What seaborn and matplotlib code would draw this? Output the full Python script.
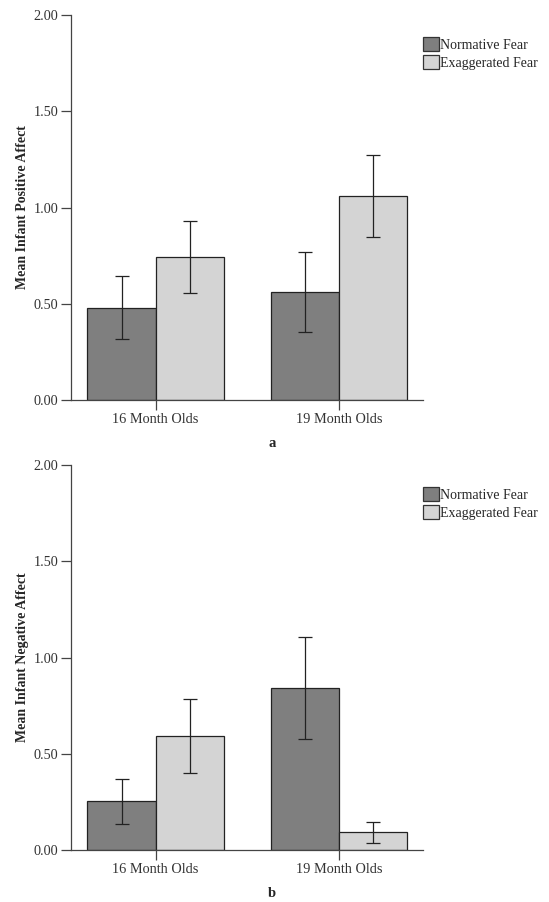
import numpy as np
import pandas as pd
import seaborn as sns
import matplotlib.pyplot as plt
from matplotlib.patches import Patch

ages = ['16 Month Olds', '19 Month Olds']
groups = ['Normative Fear', 'Exaggerated Fear']

# panel a - positive affect
pos_norm = [0.48, 0.56]
pos_exag = [0.743, 1.06]
pos_norm_lo = [0.316, 0.353]
pos_norm_hi = [0.644, 0.77]
pos_exag_lo = [0.555, 0.847]
pos_exag_hi = [0.93, 1.274]

# panel b - negative affect
neg_norm = [0.253, 0.843]
neg_exag = [0.592, 0.092]
neg_norm_lo = [0.135, 0.577]
neg_norm_hi = [0.367, 1.108]
neg_exag_lo = [0.40, 0.036]
neg_exag_hi = [0.783, 0.145]

yticks = [0.0, 0.5, 1.0, 1.5, 2.0]
ytick_labels = ['0.00', '0.50', '1.00', '1.50', '2.00']

colors = ['#7f7f7f', '#d4d4d4']

sns.set_style('white')
plt.rcParams['font.family'] = ['Liberation Serif', 'DejaVu Serif']

fig = plt.figure(figsize=(5.49, 9.02), dpi=100)
ax1 = fig.add_axes([0.1288, 0.5565, 0.6417, 0.4269])
ax2 = fig.add_axes([0.1288, 0.0576, 0.6417, 0.4269])


def panel(ax, norm, exag, nlo, nhi, elo, ehi, ylabel, letter):
    df = pd.DataFrame({
        'age': ages * 2,
        'group': [groups[0]] * 2 + [groups[1]] * 2,
        'value': norm + exag,
        'lo': nlo + elo,
        'hi': nhi + ehi,
    })
    sns.barplot(data=df, x='age', y='value', hue='group', hue_order=groups,
                palette=colors, width=0.745, errorbar=None, gap=0,
                edgecolor='#222222', linewidth=0.9, ax=ax, legend=False)
    # error bars at bar centers
    for bar_set, (g, sub) in zip(ax.containers, df.groupby('group', sort=False)):
        xs = [p.get_x() + p.get_width() / 2 for p in bar_set]
        vals = sub['value'].to_numpy()
        err = [vals - sub['lo'].to_numpy(), sub['hi'].to_numpy() - vals]
        ax.errorbar(xs, vals, yerr=err, fmt='none', ecolor='#222222',
                    elinewidth=0.9, capsize=5, capthick=0.9)
    ax.set_ylim(0, 2.0)
    ax.set_xlim(-0.464, 1.46)
    ax.set_yticks(yticks)
    ax.set_yticklabels(ytick_labels)
    ax.set_xlabel(letter, fontsize=10.5, fontweight='bold', labelpad=8)
    ax.xaxis.label.set_x(0.571)
    ax.set_ylabel(ylabel, fontsize=10, fontweight='bold', labelpad=3)
    for s in ['top', 'right']:
        ax.spines[s].set_visible(False)
    for s in ['left', 'bottom']:
        ax.spines[s].set_color('#444444')
        ax.spines[s].set_linewidth(0.9)
    ax.tick_params(axis='both', direction='out', length=7, width=0.9,
                   color='#444444', labelsize=10.3, labelcolor='#333333',
                   left=True, bottom=True, pad=2)
    handles = [Patch(facecolor=c, edgecolor='#333333', linewidth=0.9) for c in colors]
    ax.legend(handles, groups, loc='upper left', bbox_to_anchor=(1.0, 0.942),
              frameon=False, fontsize=10, handlelength=1.15, handleheight=1.15,
              handletextpad=0.1, labelspacing=0.25, borderaxespad=0, borderpad=0)


panel(ax1, pos_norm, pos_exag, pos_norm_lo, pos_norm_hi, pos_exag_lo, pos_exag_hi,
      'Mean Infant Positive Affect', 'a')
panel(ax2, neg_norm, neg_exag, neg_norm_lo, neg_norm_hi, neg_exag_lo, neg_exag_hi,
      'Mean Infant Negative Affect', 'b')

fig.savefig('out.png', dpi=100)
